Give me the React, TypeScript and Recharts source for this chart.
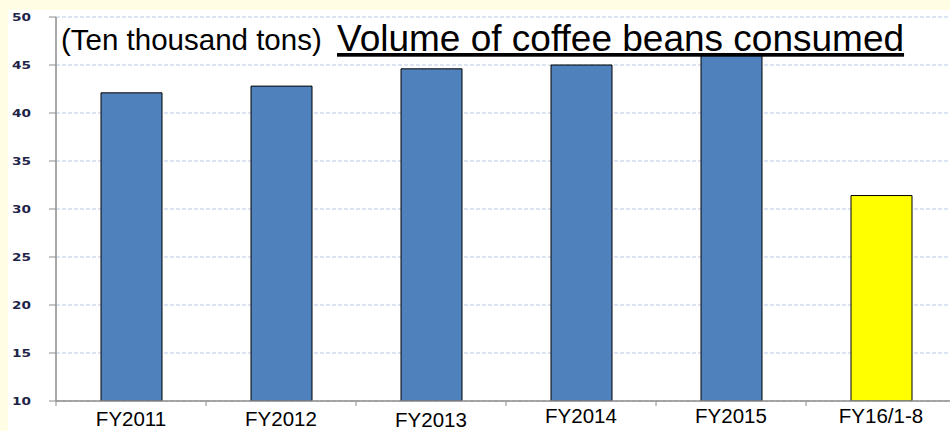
import React from 'react';
import { BarChart, Bar, XAxis, YAxis, CartesianGrid, Cell } from 'recharts';

const categories = ['FY2011', 'FY2012', 'FY2013', 'FY2014', 'FY2015', 'FY16/1-8'];
const volumes = [42.1, 42.8, 44.6, 45.0, 46.2, 31.4];
const yTicks = [10, 15, 20, 25, 30, 35, 40, 45, 50];
const unitLabel = '(Ten thousand tons)';
const title = 'Volume of coffee beans consumed';

const data = categories.map((c, i) => ({ category: c, volume: volumes[i] }));

const CHART_W = 960;
const CHART_H = 431;
const Y_AXIS_W = 56;
const MARGIN = { top: 17, right: 4, left: 0, bottom: 0 };
const BAND_W = (CHART_W - Y_AXIS_W - MARGIN.right) / categories.length;
const FONT = '"Liberation Sans", Arial, sans-serif';
// baseline offsets of the category labels below the axis (style only)
const LABEL_DY = [24.5, 24.5, 25.5, 21.5, 21.5, 22];

const XTick = (props: any) => {
  const { x, y, payload, index } = props;
  const left = x - BAND_W / 2;
  return (
    <g>
      <line x1={left} y1={y} x2={left} y2={y + 5} stroke="#8c8c8c" strokeWidth={1} />
      <text x={x} y={y + LABEL_DY[index]} textAnchor="middle" fontFamily={FONT} fontSize={20.5} fill="#000">
        {payload.value}
      </text>
    </g>
  );
};

const YTick = (props: any) => {
  const { x, y, payload } = props;
  return (
    <text
      x={x}
      y={y}
      dy="0.36em"
      textAnchor="end"
      fontFamily='"DejaVu Sans", Verdana, sans-serif'
      fontWeight="bold"
      fontSize={10.5}
      fill="#1e2448"
      textLength={19}
      lengthAdjust="spacingAndGlyphs"
    >
      {payload.value}
    </text>
  );
};

export default function App() {
  return (
    <div
      style={{
        position: 'absolute',
        left: 0,
        top: 0,
        width: 950,
        height: 431,
        overflow: 'hidden',
        background: '#FFFDE4',
      }}
    >
      <div style={{ position: 'absolute', left: 8, top: 10, right: 0, bottom: 0, background: '#fff' }} />
      <div style={{ position: 'absolute', left: 0, top: 0 }}>
        <BarChart width={CHART_W} height={CHART_H} data={data} margin={MARGIN} barSize={61}>
          <CartesianGrid
            vertical={false}
            horizontal={true}
            stroke="#b9c8e4"
            strokeDasharray="4 2"
          />
          <XAxis
            dataKey="category"
            height={CHART_H - MARGIN.top - 384}
            tickLine={false}
            tickSize={0}
            tickMargin={0}
            axisLine={{ stroke: '#8c8c8c', strokeWidth: 1.5 }}
            tick={<XTick />}
            interval={0}
          />
          <YAxis
            width={Y_AXIS_W}
            domain={[10, 50]}
            ticks={yTicks}
            interval={0}
            allowDataOverflow
            tickSize={7}
            tickMargin={18}
            tickLine={{ stroke: '#8c8c8c' }}
            axisLine={{ stroke: '#8c8c8c', strokeWidth: 1.5 }}
            tick={<YTick />}
          />
          <Bar dataKey="volume" isAnimationActive={false} stroke="#000" strokeWidth={1}>
            {data.map((d, i) => (
              <Cell key={d.category} fill={i === categories.length - 1 ? '#FFFF00' : '#4F81BD'} />
            ))}
          </Bar>
        </BarChart>
      </div>
      <svg
        width={950}
        height={431}
        style={{ position: 'absolute', left: 0, top: 0, pointerEvents: 'none' }}
      >
        <text x={61} y={49.5} fontFamily={FONT} fontSize={29.5} fill="#000">
          {unitLabel}
        </text>
        <text
          x={337}
          y={51}
          fontFamily={FONT}
          fontSize={37}
          fill="#000"
          style={{ textDecoration: 'underline' }}
        >
          {title}
        </text>
      </svg>
    </div>
  );
}
